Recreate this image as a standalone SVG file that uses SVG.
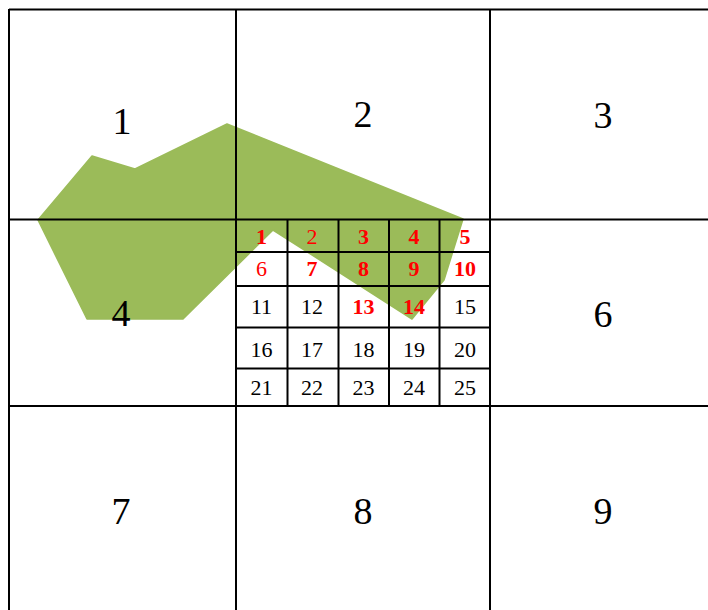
<svg xmlns="http://www.w3.org/2000/svg" width="708" height="610" viewBox="0 0 708 610">
<style>
.big{font-family:"Liberation Serif","Times New Roman",serif;font-size:38px;fill:#000;text-anchor:middle}
.sm{font-family:"Liberation Serif","Times New Roman",serif;font-size:22px;fill:#000;text-anchor:middle}
.r{fill:#FF0000}
.b{font-weight:bold}
.ln{stroke:#000;stroke-width:2;fill:none}
</style>
<rect width="708" height="610" fill="#fff"/>
<g id="area">
<polygon points="38,220 92,156 135,169 227,124 463,219 444,280 412,319 273,230 183,319 87,319" fill="#9BBB59" stroke="#9BBB59" stroke-width="1.5" stroke-linejoin="round"/>
</g>
<g id="grid" class="ln">
<line x1="9" y1="9.5" x2="708" y2="9.5"/>
<line x1="9" y1="219.5" x2="708" y2="219.5"/>
<line x1="9" y1="406" x2="708" y2="406"/>
<line x1="9" y1="9" x2="9" y2="610"/>
<line x1="236" y1="9" x2="236" y2="610"/>
<line x1="490" y1="9" x2="490" y2="610"/>
</g>
<g id="subgrid" class="ln">
<line x1="236" y1="252" x2="490" y2="252"/>
<line x1="236" y1="286" x2="490" y2="286"/>
<line x1="236" y1="327.5" x2="490" y2="327.5"/>
<line x1="236" y1="368.5" x2="490" y2="368.5"/>
<line x1="287.5" y1="219" x2="287.5" y2="406"/>
<line x1="338.5" y1="219" x2="338.5" y2="406"/>
<line x1="389" y1="219" x2="389" y2="406"/>
<line x1="439.5" y1="219" x2="439.5" y2="406"/>
</g>
<g id="big-labels">
<text class="big" x="122" y="134">1</text>
<text class="big" x="363" y="127">2</text>
<text class="big" x="603" y="128">3</text>
<text class="big" x="121" y="326">4</text>
<text class="big" x="603" y="327">6</text>
<text class="big" x="121" y="524">7</text>
<text class="big" x="363" y="524">8</text>
<text class="big" x="603" y="524">9</text>
</g>
<g id="cells">
<text class="sm r b" x="261.5" y="244">1</text>
<text class="sm r" x="312" y="244">2</text>
<text class="sm r b" x="363.5" y="244">3</text>
<text class="sm r b" x="414" y="244">4</text>
<text class="sm r b" x="465" y="244">5</text>
<text class="sm r" x="261.5" y="276">6</text>
<text class="sm r b" x="312" y="276">7</text>
<text class="sm r b" x="363.5" y="276">8</text>
<text class="sm r b" x="414" y="276">9</text>
<text class="sm r b" x="465" y="276">10</text>
<text class="sm" x="261.5" y="314">11</text>
<text class="sm" x="312" y="314">12</text>
<text class="sm r b" x="363.5" y="314">13</text>
<text class="sm r b" x="414" y="314">14</text>
<text class="sm" x="465" y="314">15</text>
<text class="sm" x="261.5" y="357">16</text>
<text class="sm" x="312" y="357">17</text>
<text class="sm" x="363.5" y="357">18</text>
<text class="sm" x="414" y="357">19</text>
<text class="sm" x="465" y="357">20</text>
<text class="sm" x="261.5" y="395">21</text>
<text class="sm" x="312" y="395">22</text>
<text class="sm" x="363.5" y="395">23</text>
<text class="sm" x="414" y="395">24</text>
<text class="sm" x="465" y="395">25</text>
</g>
</svg>
